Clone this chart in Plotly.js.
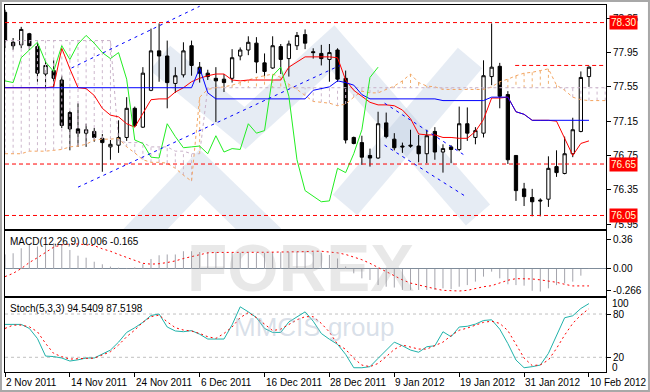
<!DOCTYPE html>
<html><head><meta charset="utf-8">
<script src="https://cdn.plot.ly/plotly-3.0.1.min.js"></script>
<style>html,body{margin:0;padding:0;background:#fff}#chart{width:650px;height:392px}</style>
</head><body><div id="chart"></div>
<script>
// ---------- data ----------
const tickIdx = [0, 8, 16, 24, 32, 40, 48, 56, 64, 72];
const tickLabels = ['2 Nov 2011','14 Nov 2011','24 Nov 2011','6 Dec 2011','16 Dec 2011','28 Dec 2011','9 Jan 2012','19 Jan 2012','31 Jan 2012','10 Feb 2012'];

const open  = [78.42,78.07,78.04,78.17,78.02,77.70,77.74,77.63,77.25,77.06,77.01,77.03,76.95,76.85,76.87,76.96,77.30,77.08,77.51,77.97,
  77.91,77.59,77.69,78.03,77.78,77.71,77.65,77.64,77.65,77.91,77.98,78.06,77.83,77.77,78.02,77.88,78.03,78.16,77.96,77.94,
  77.87,77.98,77.65,76.96,76.90,76.75,76.72,77.13,76.94,76.86,76.87,76.86,76.77,77.03,76.79,76.85,76.82,77.12,76.96,77.01,
  77.67,77.79,77.46,76.75,76.36,76.26,76.23,76.24,76.62,76.54,76.77,77.03,77.67];
const high  = [78.45,78.12,78.25,78.18,78.07,77.86,77.86,77.68,77.27,77.36,77.12,77.07,77.00,76.93,77.16,77.43,77.32,77.78,78.23,78.29,
  78.09,77.78,78.07,78.09,77.84,77.75,77.78,77.70,77.99,78.01,78.14,78.13,77.94,78.14,78.05,78.09,78.19,78.22,78.00,78.04,
  78.05,78.00,77.74,76.97,76.98,76.83,77.26,77.25,77.01,76.90,77.05,76.99,77.05,77.08,76.88,76.87,77.32,77.31,77.08,77.86,
  78.29,77.83,77.50,76.75,76.43,76.36,76.25,76.74,76.81,76.97,77.19,77.73,77.79];
const low   = [78.00,77.98,78.00,77.98,77.61,77.55,77.55,77.07,76.81,76.85,76.85,76.91,76.56,76.70,76.78,76.92,77.08,77.07,77.50,77.61,
  77.30,77.48,77.66,77.68,77.60,77.63,77.14,77.49,77.60,77.86,77.92,77.71,77.67,77.76,77.70,77.67,77.98,77.99,77.88,77.80,
  77.61,77.61,76.89,76.88,76.64,76.62,76.71,76.95,76.81,76.78,76.84,76.67,76.66,76.70,76.55,76.66,76.80,76.92,76.88,76.96,
  77.57,77.30,76.65,76.22,76.16,76.04,76.04,76.15,76.50,76.53,76.73,77.02,77.55];
const close = [78.09,78.03,78.22,78.03,77.71,77.80,77.65,77.10,77.06,77.01,77.05,76.96,76.90,76.88,76.96,77.30,77.10,77.71,77.97,77.91,
  77.60,77.68,77.97,77.80,77.71,77.67,77.62,77.60,77.89,77.98,78.07,77.84,77.73,78.03,77.87,78.05,78.15,78.06,77.95,77.88,
  77.95,77.64,76.93,76.89,76.73,76.72,77.12,76.97,76.84,76.85,76.86,76.77,76.98,76.79,76.83,76.82,77.12,77.01,77.04,77.68,
  77.78,77.44,76.70,76.34,76.27,76.21,76.22,76.60,76.55,76.77,77.05,77.66,77.78];

const tenkan = [77.54,77.54,77.54,77.54,77.54,77.54,77.55,78.00,77.76,77.54,77.53,77.45,77.30,77.22,77.20,77.12,77.08,77.24,77.40,77.41,
  77.41,77.49,77.54,77.61,77.65,77.68,77.70,77.70,77.63,77.62,77.63,77.63,77.63,77.63,77.63,77.78,77.84,77.90,77.90,77.90,
  77.90,77.89,77.63,77.51,77.44,77.37,77.34,77.34,77.33,77.28,77.18,77.00,76.99,76.99,76.96,76.96,76.95,76.95,77.03,77.17,
  77.42,77.42,77.43,77.26,77.23,77.16,77.16,77.16,77.15,76.95,76.75,76.89,76.92];
const kijun = [77.54,77.54,77.54,77.54,77.54,77.54,77.54,77.54,77.54,77.54,77.54,77.54,77.54,77.54,77.54,77.54,77.54,77.54,77.54,77.54,
  77.54,77.54,77.54,77.54,77.77,77.48,77.41,77.41,77.41,77.41,77.41,77.41,77.41,77.41,77.41,77.41,77.41,77.41,77.51,77.53,
  77.55,77.62,77.60,77.57,77.46,77.41,77.41,77.41,77.41,77.41,77.41,77.41,77.41,77.41,77.39,77.39,77.39,77.39,77.39,77.39,
  77.43,77.43,77.43,77.26,77.23,77.16,77.16,77.16,77.16,77.16,77.16,77.16,77.16];
const spanA = [76.77,76.77,76.77,76.80,76.80,76.80,76.81,76.82,76.85,76.86,76.88,76.93,76.94,76.94,76.95,76.85,76.78,76.70,76.67,76.67,
  76.66,76.60,76.52,76.45,77.43,77.52,77.54,77.55,77.57,77.60,77.63,77.66,77.68,77.70,77.66,77.58,77.52,77.45,77.38,77.37,
  77.36,77.33,77.35,77.43,77.50,77.48,77.48,77.52,77.56,77.62,77.70,77.60,77.56,77.55,77.52,77.52,77.52,77.52,77.52,77.52,
  77.55,77.61,77.64,77.68,77.71,77.72,77.74,77.76,77.57,77.51,77.43,77.40,77.39,77.39,77.39];
const spanB = [78.09,78.09,78.09,78.09,78.09,78.09,78.09,78.09,78.09,78.09,78.09,78.09,78.09,78.09,76.92,76.90,76.90,76.90,76.85,76.85,
  76.85,76.80,76.80,76.77,76.77,77.54,77.54,77.54,77.54,77.54,77.54,77.54,77.54,77.54,77.54,77.54,77.54,77.54,77.54,77.54,
  77.54,77.54,77.54,77.54,77.54,77.54,77.54,77.54,77.54,77.54,77.54,77.54,77.54,77.54,77.54,77.54,77.54,77.54,77.54,77.54,
  77.54,77.54,77.54,77.54,77.54,77.54,77.54,77.54,77.54,77.54,77.54,77.54,77.54,77.54,77.54];
const chikouShift = 26;

const macdHist = [0.18,0.195,0.257,0.30,0.28,0.30,0.32,0.30,0.235,0.165,0.14,0.09,0.058,0.03,0.016,0.01,0.02,0.06,0.124,0.17,
  0.18,0.18,0.22,0.22,0.21,0.21,0.21,0.20,0.20,0.20,0.20,0.20,0.20,0.21,0.21,0.21,0.21,0.22,0.21,0.20,
  0.174,0.13,0.03,-0.054,-0.116,-0.136,-0.199,-0.22,-0.23,-0.26,-0.26,-0.26,-0.26,-0.26,-0.24,-0.25,-0.22,-0.20,-0.157,-0.095,
  -0.033,-0.116,-0.19,-0.20,-0.207,-0.27,-0.28,-0.24,-0.20,-0.178,-0.157,-0.083,0.006];
const macdSignal = [-0.095,-0.054,0.005,0.08,0.14,0.21,0.27,0.30,0.31,0.31,0.30,0.29,0.25,0.22,0.18,0.14,0.10,0.07,0.06,0.065,
  0.08,0.10,0.13,0.155,0.18,0.20,0.205,0.207,0.207,0.207,0.207,0.207,0.207,0.207,0.207,0.207,0.21,0.215,0.22,0.22,
  0.21,0.20,0.18,0.15,0.115,0.07,0.02,-0.03,-0.09,-0.135,-0.175,-0.20,-0.225,-0.245,-0.265,-0.273,-0.273,-0.265,-0.24,-0.22,
  -0.207,-0.17,-0.14,-0.12,-0.118,-0.124,-0.135,-0.15,-0.165,-0.19,-0.21,-0.21,-0.21];

const stochMain = [65.6,65.6,65.6,60,46,21.7,21,19,14.8,16.5,19,19,24,30,41,54.5,61,68.5,78,80,
  62,56.5,55.5,57,52,45.3,45.3,45.3,65,90,83,75,60,54.5,54.5,69,76,83,70,53,
  45,38,24,5.5,5.5,7,18.5,30,41,36,30,27,34.6,36,55.4,48.5,62,63,66,71,
  72,59,39,16.2,5.5,7,9.2,25.4,50.8,74.8,77.6,87.7,94.5];
const stochSignal = [60,64.6,64.6,62.3,55.4,39.3,25.4,20.8,17.5,17.5,18.5,18.8,23,27.7,37,48.5,57.8,68.5,76.3,78.5,
  69.2,61,57.8,56.4,53,48.5,46.2,53,62,75,82,75,66,57,59,66,72,76.3,76.3,67,
  55,38,31,18.5,9.2,7,11.5,20.8,31,37,34.6,31.4,31.4,36,41,50,57.5,60.5,65,68.5,
  70,67,57,37.5,19,8.5,9.5,16.2,32.3,50.8,67,78.5,87.5];

const levels = [78.30, 76.65, 76.05];
const levelLabels = ['78.30', '76.65', '76.05'];
const resistanceLevel = 77.80, resistanceFrom = 62.9;
// trend lines: [startBar, startPrice, endBar, endPrice]
const trendLines = [
  [8.2, 77.77, 24.0, 78.49],
  [9.0, 76.38, 41.3, 77.80],
  [46.8, 77.36, 56.7, 76.75],
  [46.8, 76.87, 57.0, 76.26]
];

// ---------- geometry ----------
const XR = [0, 74.1];
const YR = [75.892, 78.505];
const Y2R = [-0.335, 0.471];
const Y3R = [-0.4, 102.2];
const FONT = 'Liberation Sans, Arial, sans-serif';
const idx = close.map((_, i) => i);
const idxC = spanA.map((_, i) => i);

// cloud hatching
const hT = {x: [], y: []}, hS = {x: [], y: []};
spanA.forEach((a, i) => {
  const b = spanB[i];
  const t = a > b ? hS : hT;
  t.x.push(i, i, null); t.y.push(a, b, null);
});
const histX = [], histY = [];
macdHist.forEach((v, i) => { histX.push(i, i, null); histY.push(0, v, null); });
const tlX = [], tlY = [];
trendLines.forEach(t => { tlX.push(t[0], t[2], null); tlY.push(t[1], t[3], null); });
const lvX = [], lvY = [];
levels.forEach(l => { lvX.push(XR[0], XR[1], null); lvY.push(l, l, null); });
lvX.push(resistanceFrom, XR[1], null); lvY.push(resistanceLevel, resistanceLevel, null);

const traces = [
  {type:'scatter', mode:'lines', x:hT.x, y:hT.y, line:{color:'#cdb8cd', width:1, dash:'3px,3px'}, hoverinfo:'skip', xaxis:'x', yaxis:'y'},
  {type:'scatter', mode:'lines', x:hS.x, y:hS.y, line:{color:'#f0b070', width:1, dash:'3px,3px'}, hoverinfo:'skip', xaxis:'x', yaxis:'y'},
  {type:'scatter', mode:'lines', x:idxC, y:spanA, line:{color:'#F4A460', width:1, dash:'3px,3px'}, hoverinfo:'skip', xaxis:'x', yaxis:'y'},
  {type:'scatter', mode:'lines', x:idxC, y:spanB, line:{color:'#c8b0c8', width:1, dash:'3px,3px'}, hoverinfo:'skip', xaxis:'x', yaxis:'y'},
  {type:'candlestick', x:idx, open:open, high:high, low:low, close:close, whiskerwidth:0,
    increasing:{line:{color:'#000', width:1}, fillcolor:'#ffffff'},
    decreasing:{line:{color:'#000', width:1}, fillcolor:'#000000'}, hoverinfo:'skip', xaxis:'x', yaxis:'y'},
  {type:'scatter', mode:'lines', x:idx, y:tenkan, line:{color:'#ff0000', width:1}, hoverinfo:'skip', xaxis:'x', yaxis:'y'},
  {type:'scatter', mode:'lines', x:idx, y:kijun, line:{color:'#0000ff', width:1}, hoverinfo:'skip', xaxis:'x', yaxis:'y'},
  {type:'scatter', mode:'lines', x:idx.slice(0, close.length - chikouShift), y:close.slice(chikouShift), line:{color:'#22ee22', width:1}, hoverinfo:'skip', xaxis:'x', yaxis:'y'},
  {type:'scatter', mode:'lines', x:tlX, y:tlY, line:{color:'#0000ff', width:1, dash:'3px,4px'}, hoverinfo:'skip', xaxis:'x', yaxis:'y'},
  {type:'scatter', mode:'lines', x:lvX, y:lvY, line:{color:'#ff0000', width:1, dash:'4px,3px'}, hoverinfo:'skip', xaxis:'x', yaxis:'y'},
  // MACD
  {type:'scatter', mode:'lines', x:histX, y:histY, line:{color:'#a4a4ac', width:1}, hoverinfo:'skip', xaxis:'x2', yaxis:'y2'},
  {type:'scatter', mode:'lines', x:idx, y:macdSignal, line:{color:'#ff0000', width:1, dash:'2px,3px'}, hoverinfo:'skip', xaxis:'x2', yaxis:'y2'},
  // Stoch
  {type:'scatter', mode:'lines', x:idx, y:stochMain, line:{color:'#20B2AA', width:1}, hoverinfo:'skip', xaxis:'x3', yaxis:'y3'},
  {type:'scatter', mode:'lines', x:idx, y:stochSignal, line:{color:'#ff0000', width:1, dash:'2px,3px'}, hoverinfo:'skip', xaxis:'x3', yaxis:'y3'}
];

// pixel -> main-panel data coordinates (for the faint logo watermark only)
function px2d(px, py) {
  return [XR[0] + (px - 5) / 601 * (XR[1] - XR[0]), YR[1] - (py - 5) / 224 * (YR[1] - YR[0])];
}
function pathOf(pts) {
  return pts.map((p, k) => { const d = px2d(p[0], p[1]); return (k ? 'L' : 'M') + d[0].toFixed(3) + ',' + d[1].toFixed(4); }).join(' ');
}
const logoBands = [
  [[160,58],[245,128],[333,48],[478,215]],
  [[345,205],[470,58]],
  [[135,240],[200,172],[270,240]]
];

const shapes = [];
logoBands.forEach(b => shapes.push({type:'path', xref:'x', yref:'y', path:pathOf(b), layer:'below',
  line:{color:'rgba(176,196,222,0.32)', width:32}}));
[80, 20].forEach(l => shapes.push({type:'line', xref:'x3', yref:'y3', x0:XR[0], x1:XR[1], y0:l, y1:l, layer:'below', line:{color:'#c0c0c0', width:1, dash:'3px,3px'}}));
// outer window frame
shapes.push({type:'rect', xref:'paper', yref:'paper', x0:-0.0067, x1:1.0715, y0:-0.0518, y1:1.0109, line:{color:'#a8a8a8', width:2}});

const annotations = [];
levels.forEach((l, k) => annotations.push({xref:'paper', yref:'y', x:1, y:l, xanchor:'left', yanchor:'middle', xshift:3,
  text:levelLabels[k], showarrow:false, bgcolor:'#ff0000', borderpad:1, font:{family:FONT, size:10, color:'#ffffd0'}}));
tickIdx.forEach((t, k) => annotations.push({xref:'x3', yref:'paper', x:t, y:0, xanchor:'left', yanchor:'middle', yshift:-10, xshift:-1,
  text:tickLabels[k], showarrow:false, font:{family:FONT, size:10, color:'#000'}}));
annotations.push({xref:'paper', yref:'y3', x:1, y:95, xanchor:'left', yanchor:'middle', xshift:4, text:'100', showarrow:false, font:{family:FONT, size:10, color:'#000'}});
annotations.push({xref:'paper', yref:'y3', x:1, y:6, xanchor:'left', yanchor:'middle', xshift:4, text:'0', showarrow:false, font:{family:FONT, size:10, color:'#000'}});
annotations.push({xref:'paper', yref:'paper', x:0, y:0.3842, xanchor:'left', yanchor:'top', xshift:3, yshift:-3,
  text:'MACD(12,26,9) 0.006 -0.165', showarrow:false, font:{family:FONT, size:10, color:'#000'}});
annotations.push({xref:'paper', yref:'paper', x:0, y:0.2016, xanchor:'left', yanchor:'top', xshift:3, yshift:-3,
  text:'Stoch(5,3,3) 94.5409 87.5198', showarrow:false, font:{family:FONT, size:10, color:'#000'}});
// watermark texts
annotations.push({xref:'paper', yref:'paper', x:0.491, y:0.283, xanchor:'center', yanchor:'middle', text:'<b>FOREX</b>', showarrow:false,
  font:{family:'Liberation Sans Narrow, Liberation Sans, Arial', size:66, color:'rgba(150,150,150,0.22)'}});
annotations.push({xref:'paper', yref:'paper', x:0.514, y:0.1226, xanchor:'center', yanchor:'middle', text:'MMCIS group', showarrow:false,
  font:{family:FONT, size:26, color:'rgba(170,185,205,0.45)'}});

const axBase = {showgrid:false, zeroline:false, showline:true, mirror:true, linecolor:'#000', linewidth:1};
const layout = {
  width:650, height:392, margin:{l:5, r:44, t:5, b:20},
  paper_bgcolor:'#fff', plot_bgcolor:'#fff', showlegend:false, boxgap:0.42,
  font:{family:FONT, size:10, color:'#000'},
  xaxis: Object.assign({}, axBase, {domain:[0,1], anchor:'y', range:XR, showticklabels:false, ticks:'', rangeslider:{visible:false}}),
  xaxis2: Object.assign({}, axBase, {domain:[0,1], anchor:'y2', range:XR, matches:'x', showticklabels:false, ticks:''}),
  xaxis3: Object.assign({}, axBase, {domain:[0,1], anchor:'y3', range:XR, matches:'x', showticklabels:false,
    tickvals:tickIdx, ticks:'outside', ticklen:4, tickcolor:'#000'}),
  yaxis: Object.assign({}, axBase, {domain:[0.3896, 1], range:YR, side:'right', tickvals:[78.35,77.95,77.55,77.15,76.75,76.35,75.95],
    ticktext:['78.35','77.95','77.55','77.15','76.75','76.35','75.95'], ticks:'outside', ticklen:4, tickcolor:'#000', tickfont:{family:FONT, size:10}}),
  yaxis2: Object.assign({}, axBase, {domain:[0.2071, 0.3842], range:Y2R, side:'right', tickvals:[0.36, 0, -0.266],
    ticktext:['0.36','0.00','-0.266'], ticks:'outside', ticklen:4, tickcolor:'#000', zeroline:true, zerolinecolor:'#7f8c9a', zerolinewidth:1, tickfont:{family:FONT, size:10}}),
  yaxis3: Object.assign({}, axBase, {domain:[0, 0.2016], range:Y3R, side:'right', tickvals:[80, 20], ticktext:['80','20'],
    ticks:'outside', ticklen:4, tickcolor:'#000', tickfont:{family:FONT, size:10}}),
  shapes: shapes, annotations: annotations
};
Plotly.newPlot('chart', traces, layout, {staticPlot:true, displayModeBar:false});
</script></body></html>
